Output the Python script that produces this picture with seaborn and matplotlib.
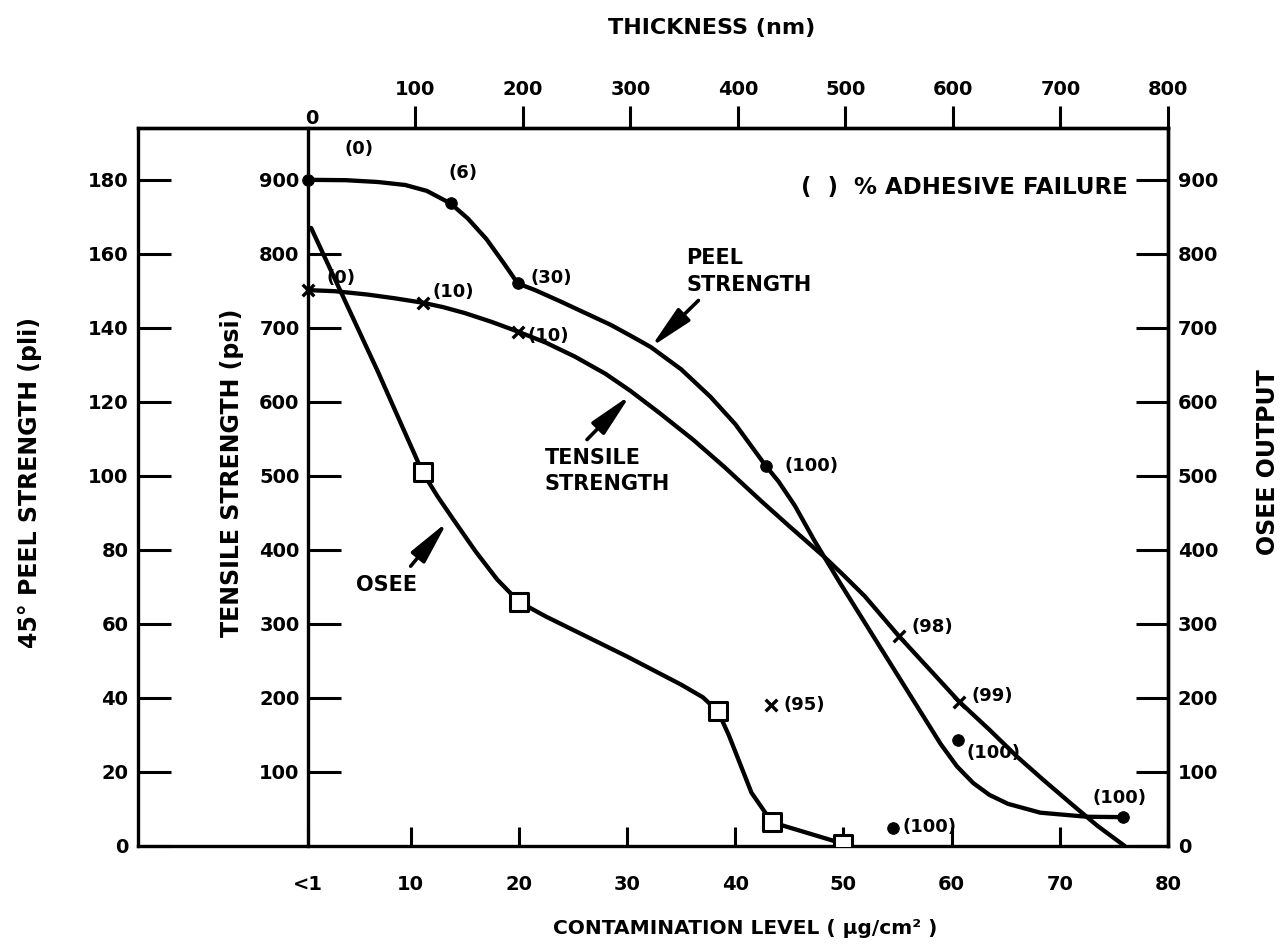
import matplotlib
matplotlib.use("Agg")
import matplotlib.pyplot as plt
import seaborn as sns
import pandas as pd

# Contamination level in µg/cm²; the "<1" position is placed at 0.5
x_ticks = [0.5, 10, 20, 30, 40, 50, 60, 70, 80]
x_tick_labels = ["<1", "10", "20", "30", "40", "50", "60", "70", "80"]
thickness_ticks = [100, 200, 300, 400, 500, 600, 700, 800]
peel_ticks = [0, 20, 40, 60, 80, 100, 120, 140, 160, 180]
tensile_ticks = [100, 200, 300, 400, 500, 600, 700, 800, 900]
osee_ticks = [0, 100, 200, 300, 400, 500, 600, 700, 800, 900]

# 45° peel strength (pli): measured points with % adhesive failure
peel_x = [0.5, 13.7, 19.9, 42.8, 60.6, 75.8]
peel_y = [180, 173.6, 152, 102.8, 28.6, 7.8]
peel_fail = ["(0)", "(6)", "(30)", "(100)", "(100)", "(100)"]
peel_extra_x = [54.6]
peel_extra_y = [4.8]
peel_extra_fail = ["(100)"]
# faired peel-strength curve
peel_curve_x = [0.5, 4, 7, 9.5, 11.5, 13.7, 15.3, 17, 18.6, 19.9, 21.5, 23.8,
                26, 28.5, 30.5, 32.2, 35, 37.7, 40, 42.8, 44, 45.5, 47.3, 49.7,
                52.8, 55.9, 59, 60.5, 62, 63.5, 65.2, 68.2, 72.5, 75.8]
peel_curve_y = [180, 179.9, 179.4, 178.6, 177, 173.6, 169.5, 164, 157.5, 152,
                150.2, 147.2, 144.2, 140.8, 137.6, 134.8, 128.8, 121.4, 114,
                102.8, 98.5, 92, 82.6, 71, 56.5, 42, 27.5, 21.5, 17, 13.8, 11.4,
                9.0, 7.9, 7.8]

# tensile strength (psi)
tensile_x = [0.5, 11.1, 19.9, 55.1, 60.7]
tensile_y = [751, 734, 695, 284, 195]
tensile_fail = ["(0)", "(10)", "(10)", "(98)", "(99)"]
tensile_extra_x = [43.3]
tensile_extra_y = [190]
tensile_extra_fail = ["(95)"]
tensile_curve_x = [0.5, 3, 6, 8.5, 11.1, 13, 15, 17.5, 19.9, 22.5, 25.2, 28,
                   30.3, 33, 36.1, 39, 42.4, 45, 48.2, 50, 52, 55.1, 58, 60.7,
                   63.5, 66.1, 68.5, 71.3, 73.5, 76]
tensile_curve_y = [751, 749.5, 745, 740, 734, 728, 720, 708, 695, 680, 661,
                   638, 615, 585, 549, 512, 466, 432, 391, 366, 337, 284, 238,
                   195, 157, 120, 89, 54, 27, 0]

# OSEE output
osee_x = [11.1, 20, 38.4, 43.4, 50]
osee_y = [505, 330, 182, 32, 3]
osee_curve_x = [0.8, 3.6, 7.0, 9.0, 11.1, 12.5, 14, 16, 18, 20, 22.5, 25, 30,
                35, 37, 38.4, 39.4, 41.5, 43.4, 50]
osee_curve_y = [835, 747, 640, 574, 505, 472, 440, 398, 360, 330, 310, 292,
                256, 218, 201, 182, 150, 72, 32, 3]

sns.set_theme(style="white")
plt.rcParams["font.family"] = ["DejaVu Sans"]
plt.rcParams["font.weight"] = "bold"
plt.rcParams["axes.edgecolor"] = "black"
plt.rcParams["axes.linewidth"] = 2.4
plt.rcParams["text.color"] = "black"
plt.rcParams["axes.labelcolor"] = "black"
plt.rcParams["xtick.color"] = "black"
plt.rcParams["ytick.color"] = "black"
plt.rcParams["xtick.labelcolor"] = "black"
plt.rcParams["ytick.labelcolor"] = "black"

INK = "black"
LW = 3.1

fig = plt.figure(figsize=(12.83, 9.46), dpi=100)
ax = fig.add_axes([0.10756, 0.10571, 0.80281, 0.75899])
ax.set_xlim(-15.2, 80)
ax.set_ylim(0, 970)

ax_peel = ax.twinx()
ax_peel.set_ylim(0, 194)

line_kw = dict(sort=False, color=INK, lw=LW, solid_joinstyle="round",
               solid_capstyle="round")
curves = pd.DataFrame({"x": peel_curve_x, "y": peel_curve_y})
sns.lineplot(data=curves, x="x", y="y", ax=ax_peel, **line_kw)
sns.lineplot(x=tensile_curve_x, y=tensile_curve_y, ax=ax, **line_kw)
sns.lineplot(x=osee_curve_x, y=osee_curve_y, ax=ax, **line_kw)

# markers
sns.scatterplot(x=peel_x + peel_extra_x, y=peel_y + peel_extra_y, ax=ax_peel,
                color=INK, s=70, marker="o", edgecolor=INK, zorder=5)
sns.scatterplot(x=tensile_x + tensile_extra_x, y=tensile_y + tensile_extra_y, ax=ax,
                color=INK, s=70, marker="x", linewidth=2.4, zorder=5)
sns.scatterplot(x=osee_x, y=osee_y, ax=ax, marker="s", s=150, facecolor="white",
                edgecolor=INK, linewidth=2.2, zorder=5)

# % adhesive failure annotations
pct_kw = dict(textcoords="offset points", fontsize=13, fontweight="bold",
              va="center", color=INK)
peel_offsets = [(37, 22, "center"), (9, 22, "center"), (9, 4, "left"),
                (14, 0, "left"), (6, -9, "left"), (-2, 14, "center")]
for x, y, lab, (dx, dy, ha) in zip(peel_x, peel_y, peel_fail, peel_offsets):
    ax_peel.annotate(lab, (x, y), xytext=(dx, dy), ha=ha, **pct_kw)
for x, y, lab in zip(peel_extra_x, peel_extra_y, peel_extra_fail):
    ax_peel.annotate(lab, (x, y), xytext=(7, 1), ha="left", **pct_kw)

tensile_offsets = [(24, 9, "center"), (22, 8, "center"), (7, -3, "left"),
                   (9, 6, "left"), (9, 4, "left")]
for x, y, lab, (dx, dy, ha) in zip(tensile_x, tensile_y, tensile_fail, tensile_offsets):
    ax.annotate(lab, (x, y), xytext=(dx, dy), ha=ha, **pct_kw)
for x, y, lab in zip(tensile_extra_x, tensile_extra_y, tensile_extra_fail):
    ax.annotate(lab, (x, y), xytext=(9, 0), ha="left", **pct_kw)

# curve names with pointer arrows
arrow = dict(arrowstyle="-|>,head_length=1.2,head_width=0.24", color=INK,
             lw=2.6, mutation_scale=22, shrinkA=0, shrinkB=0)
ax.annotate("", xy=(32.2, 674), xytext=(36.6, 737), arrowprops=arrow)
ax.text(35.5, 776, "PEEL\nSTRENGTH", fontsize=15, fontweight="bold",
        ha="left", va="center", linespacing=1.4)
ax.annotate("", xy=(30.3, 609), xytext=(26.3, 549), arrowprops=arrow)
ax.text(22.4, 507, "TENSILE\nSTRENGTH", fontsize=15, fontweight="bold",
        ha="left", va="center", linespacing=1.4)
ax.annotate("", xy=(13.4, 438), xytext=(10.0, 378), arrowprops=arrow)
ax.text(7.8, 352, "OSEE", fontsize=15, fontweight="bold",
        ha="center", va="center")

ax.text(76.3, 889, "(  )  % ADHESIVE FAILURE", fontsize=16.5, fontweight="bold",
        ha="right", va="center")

# spines: outer frame, inner tensile axis at "<1"
for side in ["top", "bottom", "right"]:
    ax.spines[side].set_linewidth(2.4)
ax.spines["left"].set_position(("data", 0.5))
ax.spines["left"].set_linewidth(2.4)
for side in ["top", "bottom", "right"]:
    ax_peel.spines[side].set_visible(False)
ax_peel.spines["left"].set_visible(True)
ax_peel.spines["left"].set_linewidth(2.4)

# bottom axis
ax.set_xticks(x_ticks, x_tick_labels)
ax.tick_params(axis="x", which="major", direction="in", length=14, width=2.2,
               pad=21, labelsize=14, bottom=True, top=False, color=INK)

# inner tensile axis
ax.set_yticks(tensile_ticks)
ax.tick_params(axis="y", which="major", direction="in", length=24, width=2.2,
               pad=6, labelsize=14, left=True, right=False, labelleft=True,
               labelright=False, color=INK)

# outer peel axis
ax_peel.yaxis.tick_left()
ax_peel.set_yticks(peel_ticks)
ax_peel.tick_params(axis="y", which="major", direction="in", length=24, width=2.2,
                    pad=7, labelsize=14, color=INK)
ax_peel.set_ylabel("")

# right OSEE axis
sec_r = ax.secondary_yaxis("right")
sec_r.set_yticks(osee_ticks)
sec_r.tick_params(axis="y", direction="in", length=23, width=2.2, pad=7,
                  labelsize=14, color=INK)
sec_r.spines["right"].set_linewidth(2.4)


# top thickness axis
def to_thickness(c):
    return (c - 0.5) * 800 / 79.5


def to_contamination(t):
    return t * 79.5 / 800 + 0.5


sec_t = ax.secondary_xaxis("top", functions=(to_thickness, to_contamination))
sec_t.set_xticks(thickness_ticks)
sec_t.tick_params(axis="x", direction="out", length=16, width=2.2, pad=5,
                  labelsize=14, color=INK)
sec_t.spines["top"].set_linewidth(2.4)
ax.text(0.9, 1.0, "0", transform=ax.get_xaxis_transform(), fontsize=14,
        fontweight="bold", ha="center", va="bottom")

ax.set_xlabel("")
ax.set_ylabel("")

# axis titles
fig.text(0.555, 0.970, "THICKNESS (nm)", fontsize=16, fontweight="bold",
         ha="center", va="center")
fig.text(0.5807, 0.019, "CONTAMINATION LEVEL ( µg/cm² )", fontsize=14.5,
         fontweight="bold", ha="center", va="center")
fig.text(0.0234, 0.49, "45° PEEL STRENGTH (pli)", fontsize=17, fontweight="bold",
         rotation=90, ha="center", va="center")
fig.text(0.1808, 0.50, "TENSILE STRENGTH (psi)", fontsize=17, fontweight="bold",
         rotation=90, ha="center", va="center")
fig.text(0.9883, 0.511, "OSEE OUTPUT", fontsize=17, fontweight="bold",
         rotation=90, ha="center", va="center")

fig.savefig("out.png", dpi=100, facecolor="white")
